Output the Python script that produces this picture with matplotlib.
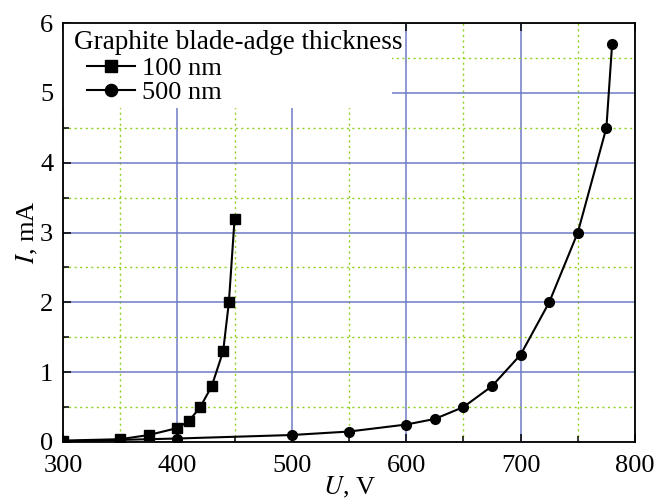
import matplotlib.pyplot as plt
from matplotlib.patches import Rectangle
from matplotlib.ticker import MultipleLocator

plt.rcParams['font.family'] = ['Liberation Serif', 'DejaVu Serif']
plt.rcParams['mathtext.fontset'] = 'stix'

# 100 nm edge
u_100 = [300, 350, 375, 400, 410, 420, 430, 440, 445, 450]
i_100 = [0.02, 0.04, 0.10, 0.20, 0.30, 0.50, 0.80, 1.30, 2.00, 3.20]
# 500 nm edge
u_500 = [300, 400, 500, 550, 600, 625, 650, 675, 700, 725, 750, 775, 780]
i_500 = [0.01, 0.05, 0.10, 0.15, 0.25, 0.33, 0.50, 0.80, 1.25, 2.00, 3.00, 4.50, 5.70]

W, H = 661, 500
x0, x1, y0, y1 = 63, 635, 23, 442
fig = plt.figure(figsize=(W / 100, H / 100), dpi=100)
ax = fig.add_axes([x0 / W, 1 - y1 / H, (x1 - x0) / W, (y1 - y0) / H])


def ax_x(px):
    return (px - x0) / (x1 - x0)


def ax_y(py):
    return (y1 - py) / (y1 - y0)


ax.plot(u_100, i_100, color='black', lw=1.5, marker='s', ms=6.5, label='100 nm', zorder=3)
ax.plot(u_500, i_500, color='black', lw=1.5, marker='o', ms=7, label='500 nm', zorder=3)

ax.set_xlim(300, 800)
ax.set_ylim(0, 6)
ax.xaxis.set_major_locator(MultipleLocator(100))
ax.xaxis.set_minor_locator(MultipleLocator(50))
ax.yaxis.set_major_locator(MultipleLocator(1))
ax.yaxis.set_minor_locator(MultipleLocator(0.5))

ax.grid(which='major', color='#6f7ac4', lw=1.1, ls='-')
ax.grid(which='minor', color='#8fd020', lw=1.0, ls=(0, (1.5, 2.5)))
ax.set_axisbelow(True)

ax.tick_params(which='both', direction='in', top=True, right=False, labelsize=19, width=1.1)
ax.tick_params(which='major', length=6)
ax.tick_params(which='minor', length=4, top=False)
ax.tick_params(axis='x', pad=9)
ax.tick_params(axis='y', pad=7)
for s in ax.spines.values():
    s.set_linewidth(1.3)

ax.set_xlabel('$U$, V', fontsize=19, labelpad=-1)
ax.set_ylabel('$I$, mA', fontsize=19, labelpad=0)

# white area behind the legend
ax.add_patch(Rectangle((0, ax_y(108)), ax_x(392), 1 - ax_y(108), transform=ax.transAxes,
                       facecolor='white', edgecolor='none', zorder=1))
ax.text(ax_x(74), ax_y(49), 'Graphite blade-adge thickness', transform=ax.transAxes,
        fontsize=19.5, ha='left', va='baseline', zorder=4)
ax.legend(loc='upper left', bbox_to_anchor=(ax_x(87), ax_y(57)), fontsize=19, frameon=False,
          borderaxespad=0, borderpad=0, handlelength=1.8, handletextpad=0.3,
          labelspacing=0.0, markerscale=1.25)

fig.savefig('out.png', dpi=100)
